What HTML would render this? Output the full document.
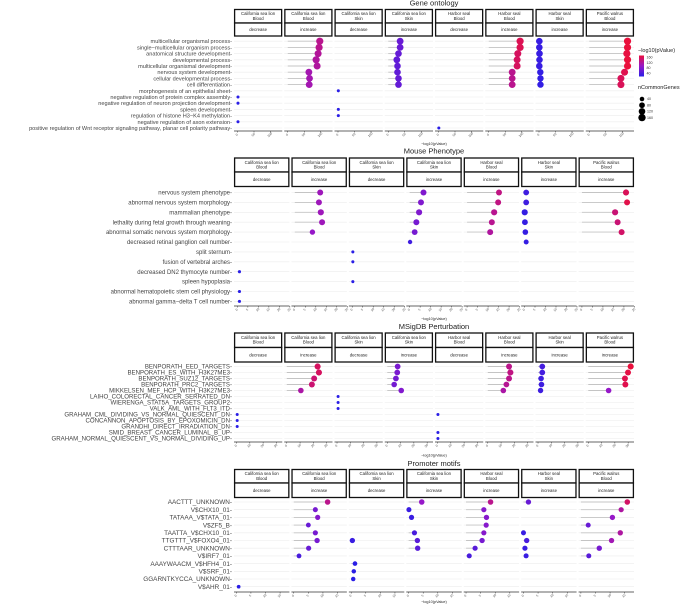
<!DOCTYPE html>
<html><head><meta charset="utf-8">
<style>
html,body{margin:0;padding:0;background:#fff;}
svg{display:block;font-family:"Liberation Sans",sans-serif;}
</style></head>
<body>
<svg id="chart" width="683" height="605" viewBox="0 0 683 605" xmlns="http://www.w3.org/2000/svg"></svg>
<script>
// ---------- data ----------
const facets8 = [["California sea lion","Blood","decrease"],["California sea lion","Blood","increase"],["California sea lion","Skin","decrease"],["California sea lion","Skin","increase"],["Harbor seal","Blood","decrease"],["Harbor seal","Blood","increase"],["Harbor seal","Skin","increase"],["Pacific walrus","Blood","increase"]];
const facets7 = [["California sea lion","Blood","decrease"],["California sea lion","Blood","increase"],["California sea lion","Skin","decrease"],["California sea lion","Skin","increase"],["Harbor seal","Blood","increase"],["Harbor seal","Skin","increase"],["Pacific walrus","Blood","increase"]];

const goRows = ["multicellular organismal process","single\u2212multicellular organism process","anatomical structure development","developmental process","multicellular organismal development","nervous system development","cellular developmental process","cell differentiation","morphogenesis of an epithelial sheet","negative regulation of protein complex assembly","negative regulation of neuron projection development","spleen development","regulation of histone H3\u2212K4 methylation","negative regulation of axon extension","positive regulation of Wnt receptor signaling pathway, planar cell polarity pathway"];
const goTicks = [0,50,100];
// [row, -log10 x value, colour value, nCommonGenes]
const goData = [
 [[9,1.5,30,8],[10,1.5,30,8],[13,1.5,30,8]],
 [[0,97,125,150],[1,95,125,150],[2,92,120,140],[3,86,118,150],[4,89,118,140],[5,64,110,130],[6,66,110,130],[7,65,110,130]],
 [[8,1,30,8],[11,1,30,8],[12,1,30,8]],
 [[0,36,75,130],[1,36,75,130],[2,31,72,120],[3,26,70,130],[4,28,70,120],[5,28,70,120],[6,31,72,120],[7,31,72,120]],
 [[14,1,30,8]],
 [[0,95,150,150],[1,95,150,150],[2,88,145,140],[3,86,145,140],[4,86,145,140],[5,71,125,130],[6,71,125,130],[7,71,125,130]],
 [[0,1,48,120],[1,1,48,120],[2,1.5,48,120],[3,1.5,48,120],[4,1,48,120],[5,4,45,110],[6,4.5,45,110],[7,4.5,45,110]],
 [[0,116,160,150],[1,116,160,150],[2,114,158,150],[3,116,160,150],[4,116,160,150],[5,107,152,140],[6,96,148,140],[7,96,148,140]]
];

const mpRows = ["nervous system phenotype","abnormal nervous system morphology","mammalian phenotype","lethality during fetal growth through weaning","abnormal somatic nervous system morphology","decreased retinal ganglion cell number","split sternum","fusion of vertebral arches","decreased DN2 thymocyte number","spleen hypoplasia","abnormal hematopoietic stem cell physiology","abnormal gamma\u2212delta T cell number"];
const mpTicks = [0,5,10,15,20,25];
const mpData = [
 [[8,1,2,8],[10,1,2,8],[11,1,2,8]],
 [[0,12.1,13,110],[1,11.5,13,110],[2,12.4,13,120],[3,13,13,110],[4,8.4,12,80]],
 [[6,0.3,2,8],[7,0.3,2,8],[9,0.3,2,8]],
 [[0,6.6,10,110],[1,5.4,10,110],[2,4.5,10,120],[3,3.2,9,110],[4,2.4,9,100],[5,0.2,4,40]],
 [[0,15.2,17,110],[1,14.8,17,110],[2,12.9,16,120],[3,11.8,16,110],[4,11,15,110]],
 [[0,0.8,4,100],[1,0.8,4,100],[2,0.1,3,120],[3,0.2,3,100],[4,0.4,3,90],[5,0.8,3,60]],
 [[0,21,20,120],[1,21.5,21,110],[2,15.8,18,120],[3,17,18,110],[4,18.9,19,110]]
];

const msRows = ["BENPORATH_EED_TARGETS","BENPORATH_ES_WITH_H3K27ME3","BENPORATH_SUZ12_TARGETS","BENPORATH_PRC2_TARGETS","MIKKELSEN_MEF_HCP_WITH_H3K27ME3","LAIHO_COLORECTAL_CANCER_SERRATED_DN","WIERENGA_STAT5A_TARGETS_GROUP2","VALK_AML_WITH_FLT3_ITD","GRAHAM_CML_DIVIDING_VS_NORMAL_QUIESCENT_DN","CONCANNON_APOPTOSIS_BY_EPOXOMICIN_DN","GRANDHI_DIRECT_IRRADIATION_DN","SMID_BREAST_CANCER_LUMINAL_B_UP","GRAHAM_NORMAL_QUIESCENT_VS_NORMAL_DIVIDING_UP"];
const msTicks = [0,10,20,30];
const msData = [
 [[8,0.5,2,10],[9,0.5,2,10],[10,0.5,2,10]],
 [[0,23.2,30,130],[1,24.2,30,130],[2,20.6,28,120],[3,18.9,28,120],[4,10.6,22,100]],
 [[5,0.8,2,10],[6,0.8,2,10],[7,0.8,2,10]],
 [[0,7.8,14,110],[1,7.5,14,110],[2,6.5,13,110],[3,5.2,13,100],[4,10.5,15,100]],
 [[8,0.3,2,10],[11,0.3,2,10],[12,0.3,2,10]],
 [[0,16,25,120],[1,17,26,130],[2,16,25,120],[3,14,24,110],[4,11.7,22,100]],
 [[0,3.2,6,110],[1,3.2,6,110],[2,2.3,5,100],[3,2.6,5,100],[4,1.9,5,90]],
 [[0,31.9,34,130],[1,29.9,33,120],[2,27.6,32,120],[3,27.9,32,120],[4,15.3,18,100]]
];

const prRows = ["AACTTT_UNKNOWN","V$CHX10_01","TATAAA_V$TATA_01","V$ZF5_B","TAATTA_V$CHX10_01","TTGTTT_V$FOXO4_01","CTTTAAR_UNKNOWN","V$IRF7_01","AAAYWAACM_V$HFH4_01","V$SRF_01","GGARNTKYCCA_UNKNOWN","V$AHR_01"];
const prTicks = [0,5,10,15];
const prData = [
 [[11,0.8,2,30]],
 [[0,11.6,12,120],[1,7.4,7,90],[2,8.2,8,100],[3,5,6,80],[4,7.4,7,100],[5,8,7,110],[6,5.1,6,100],[7,1.8,4,80]],
 [[5,0.4,3,110],[8,1.3,2,70],[9,0.9,2,60],[10,0.7,2,60]],
 [[0,4.5,9,120],[1,0.1,3,90],[2,1,3,100],[4,2,4,100],[5,3,5,110],[6,3.1,5,110]],
 [[0,8.4,12,120],[1,6.1,8,100],[2,7,8,110],[3,6.9,8,100],[4,6.1,8,100],[5,5.5,7,110],[6,3.1,5,100],[7,1.1,4,90]],
 [[0,1.7,6,110],[4,0,3,90],[5,1.1,4,110],[6,0.5,3,100],[7,0.9,3,90]],
 [[0,15.9,14,120],[1,13.8,11,100],[2,10.8,9,110],[3,2.5,6,90],[4,13.5,11,110],[5,10.5,10,110],[6,6.3,7,110],[7,2.7,5,90]]
];

const legendColorLabels = [160,120,80,40];
const legendSizeLabels = [40,80,120,160];

// ---------- drawing ----------
const NS = "http://www.w3.org/2000/svg";
const svg = document.getElementById("chart");
function el(tag, attrs, parent){
  const e = document.createElementNS(NS, tag);
  for (const k in attrs) e.setAttribute(k, attrs[k]);
  (parent||svg).appendChild(e);
  return e;
}
function lerp(a,b,t){return Math.round(a+(b-a)*t);}
function colorOf(v, lo, hi){
  let t = Math.max(0, Math.min(1, (v-lo)/(hi-lo)));
  const c0=[42,30,230], c1=[150,24,200], c2=[234,16,60];
  let a,b,u;
  if (t<0.5){a=c0;b=c1;u=t/0.5;} else {a=c1;b=c2;u=(t-0.5)/0.5;}
  return "rgb("+lerp(a[0],b[0],u)+","+lerp(a[1],b[1],u)+","+lerp(a[2],b[2],u)+")";
}

function drawPanel(cfg){
  const g = el("g", {});
  
  
  const left = 234, right = 634, gap = 2;
  const n = cfg.facets.length;
  const fw = (right-left - gap*(n-1))/n;
  // title
  const t = el("text", {x:434, y:cfg.titleY, "font-size":7.5, "text-anchor":"middle", fill:"#222"}, g);
  t.textContent = cfg.title;
  
  
  const rowY = i => cfg.rowFirst + i*cfg.rowStep;
  // row labels
  cfg.rows.forEach((r,i)=>{
    const tx = el("text", {x:left-2, y:rowY(i)+cfg.fs*0.35, "font-size":cfg.fs, "text-anchor":"end", fill:"#444"}, g);
    tx.textContent = r + "-";
    
    
  });
  cfg.facets.forEach((f,fi)=>{
    const fx = left + fi*(fw+gap);
    const xs = v => fx + (v - cfg.dmin)/(cfg.dmax-cfg.dmin)*fw;
    const fg = el("g", {}, g);
    
    
    // strips
    el("rect", {x:fx+0.6, y:cfg.stripTop, width:fw-1.2, height:cfg.stripMid-cfg.stripTop, fill:"#fff", stroke:"#111", "stroke-width":1.3}, fg);
    el("rect", {x:fx+0.6, y:cfg.stripMid, width:fw-1.2, height:cfg.stripBot-cfg.stripMid, fill:"#fff", stroke:"#111", "stroke-width":1.3}, fg);
    const sh = cfg.stripMid-cfg.stripTop;
    const s1 = el("text", {x:fx+fw/2, y:cfg.stripTop+sh*0.42, "font-size":4.3, "text-anchor":"middle", fill:"#222"}, fg);
    s1.textContent = f[0];
    
    
    const s2 = el("text", {x:fx+fw/2, y:cfg.stripTop+sh*0.42+4.6, "font-size":4.3, "text-anchor":"middle", fill:"#222"}, fg);
    s2.textContent = f[1];
    
    
    const s3 = el("text", {x:fx+fw/2, y:(cfg.stripMid+cfg.stripBot)/2+1.5, "font-size":4.3, "text-anchor":"middle", fill:"#222"}, fg);
    s3.textContent = f[2];
    
    
    // grid
    cfg.rows.forEach((r,i)=>{
      el("line", {x1:fx, x2:fx+fw, y1:rowY(i), y2:rowY(i), stroke:"#ececec", "stroke-width":0.6}, fg);
    });
    // axis
    const ay = cfg.axisY;
    el("line", {x1:fx, x2:fx+fw, y1:ay, y2:ay, stroke:"#333", "stroke-width":0.7}, fg);
    cfg.ticks.forEach(tv=>{
      const tx = xs(tv);
      el("line", {x1:tx, x2:tx, y1:ay, y2:ay+1.5, stroke:"#333", "stroke-width":0.5}, fg);
      const tl = el("text", {x:tx, y:ay+4.5, "font-size":3.2, "text-anchor":"middle", fill:"#555", transform:"rotate(-45 "+tx+" "+(ay+4.5)+")"}, fg);
      tl.textContent = tv;
      
      
    });
    // data
    cfg.data[fi].forEach(d=>{
      const y = rowY(d[0]), x0 = xs(0), x1 = xs(d[1]);
      if (x1 - x0 > 1.5){
        const sl = el("line", {x1:x0, x2:x1, y1:y, y2:y, stroke:"#c4c4c4", "stroke-width":0.9}, fg);
        
        
      }
      const r = cfg.rmin + Math.sqrt(d[3])*cfg.rk;
      const c = el("circle", {cx:x1, cy:y, r:r, fill:colorOf(d[2], cfg.cmin, cfg.cmax)}, fg);
      
      
    });
  });
  const xt = el("text", {x:434, y:cfg.xtitleY, "font-size":3.8, "text-anchor":"middle", fill:"#222"}, g);
  xt.textContent = "\u2212log10(pValue)";
  
  
}

drawPanel({name:"gene-ontology-panel", title:"Gene ontology", titleY:5.5, stripTop:9.5, stripMid:23, stripBot:36, rowFirst:41.2, rowStep:6.2, axisY:131, xtitleY:145,
  facets:facets8, rows:goRows, data:goData, ticks:goTicks, dmin:-10.6, dmax:135.6, fs:5.6, cmin:40, cmax:160, rmin:0.9, rk:0.22});
drawPanel({name:"mouse-phenotype-panel", title:"Mouse Phenotype", titleY:153.5, stripTop:158, stripMid:172, stripBot:186.5, rowFirst:192.5, rowStep:9.9, axisY:306, xtitleY:320,
  facets:facets7, rows:mpRows, data:mpData, ticks:mpTicks, dmin:-1.6, dmax:24.8, fs:6, cmin:2, cmax:22, rmin:1.0, rk:0.19});
drawPanel({name:"msigdb-perturbation-panel", title:"MSigDB Perturbation", titleY:329, stripTop:333, stripMid:347.5, stripBot:362, rowFirst:366.5, rowStep:6, axisY:442, xtitleY:456.5,
  facets:facets8, rows:msRows, data:msData, ticks:msTicks, dmin:-1.9, dmax:34.4, fs:6.1, cmin:2, cmax:34, rmin:0.9, rk:0.19});
drawPanel({name:"promoter-motifs-panel", title:"Promoter motifs", titleY:466, stripTop:469.5, stripMid:483, stripBot:497.5, rowFirst:502, rowStep:7.7, axisY:592, xtitleY:603,
  facets:facets7, rows:prRows, data:prData, ticks:prTicks, dmin:-0.8, dmax:18.2, fs:6.4, cmin:2, cmax:16, rmin:0.9, rk:0.17});

// legend
const lg = el("g", {});


const lt = el("text", {x:638, y:52, "font-size":5.5, fill:"#222"}, lg);
lt.textContent = "\u2212log10(pValue)";


const defs = el("defs", {}, svg);
const grad = el("linearGradient", {id:"cg", x1:0, y1:0, x2:0, y2:1}, defs);
el("stop", {offset:"0", "stop-color":colorOf(160,40,160)}, grad);
el("stop", {offset:"0.5", "stop-color":colorOf(100,40,160)}, grad);
el("stop", {offset:"1", "stop-color":colorOf(40,40,160)}, grad);
const cb = el("rect", {x:639, y:55.5, width:5, height:21, fill:"url(#cg)"}, lg);


legendColorLabels.forEach((v,i)=>{
  const ty = 57.5 + i*5.2;
  const tx = el("text", {x:646.5, y:ty+1.2, "font-size":3.6, fill:"#333"}, lg);
  tx.textContent = v;
  
  
});
const st = el("text", {x:638, y:89, "font-size":5.5, fill:"#222"}, lg);
st.textContent = "nCommonGenes";


legendSizeLabels.forEach((v,i)=>{
  const cy = 99 + i*6.2;
  const c = el("circle", {cx:642, cy:cy, r:0.9+Math.sqrt(v)*0.22, fill:"#000"}, lg);
  
  
  const tx = el("text", {x:647, y:cy+1.2, "font-size":3.6, fill:"#333"}, lg);
  tx.textContent = v;
  
  
});
</script>
</body></html>
